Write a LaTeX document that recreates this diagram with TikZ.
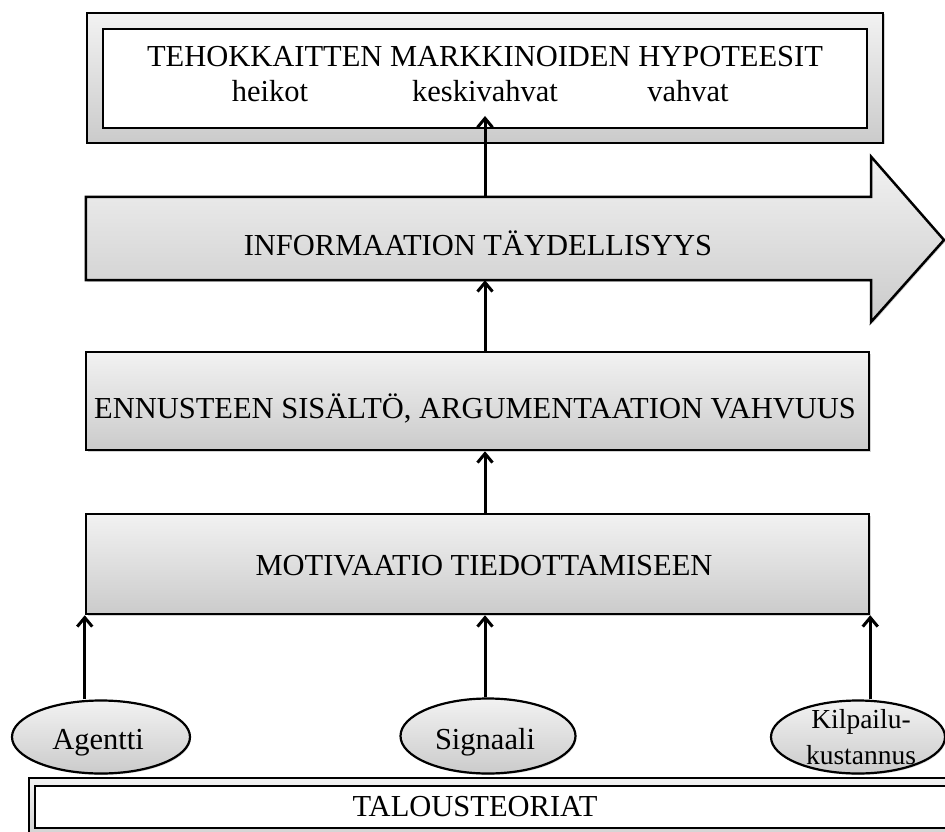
\documentclass[tikz,border=0pt]{standalone}
\usepackage{fontspec}
\setmainfont{Liberation Serif}
\usetikzlibrary{shapes.geometric,arrows.meta,shadows}
\definecolor{gtop}{HTML}{F2F2F2}
\definecolor{gbot}{HTML}{CBCBCB}
\begin{document}
\begin{tikzpicture}[x=1pt,y=-1pt,
  shbox/.style={draw=black, line width=2.5pt, top color=gtop, bottom color=gbot, inner sep=0pt,
    drop shadow={opacity=0.35, shadow xshift=1.5pt, shadow yshift=-1.5pt}},
  wbox/.style={draw=black, line width=2.5pt, fill=white, inner sep=0pt},
  oval/.style={ellipse, draw=black, line width=2.2pt, top color=gtop, bottom color=gbot, inner sep=0pt,
    drop shadow={opacity=0.3, shadow xshift=1pt, shadow yshift=-1.5pt}},
  lbl/.style={font=\fontsize{30.5}{35}\selectfont, anchor=base, inner sep=0pt},
  slbl/.style={font=\fontsize{27.5}{36}\selectfont, anchor=base, inner sep=0pt},
  arr/.style={line width=3pt, -{Straight Barb[length=9pt,width=15pt]}},
]
\useasboundingbox (0,0) rectangle (945,832);
\clip (0,0) rectangle (945,832);

% top frame
\node (hypframe) [shbox, minimum width=796pt, minimum height=130pt] at (485,78) {};
\node (hyp) [wbox, minimum width=764pt, minimum height=99pt] at (485,78.5) {};
\node[lbl] (hyptitle) at (485,67) {TEHOKKAITTEN MARKKINOIDEN HYPOTEESIT};
\node[lbl] (heikot) at (270,102) {heikot};
\node[lbl] (kesk) at (485,102) {keskivahvat};
\node[lbl] (vahvat) at (688,102) {vahvat};
\coordinate (ktip) at (485,116);

% big arrow
\path node (infobody) [minimum width=785pt, minimum height=83pt, inner sep=0pt] at (478.5,238.5) {};
\draw[line width=2.5pt, line join=miter, top color=gtop, bottom color=gbot,
      drop shadow={opacity=0.35, shadow xshift=1.5pt, shadow yshift=-1.5pt}]
  (infobody.north west) -- (infobody.north east) -- ++(0,-40) -- (944,240)
  -- (871,322) -- (infobody.south east) -- (infobody.south west) -- cycle;
\node[lbl] (infotxt) at (478,255) {INFORMAATION TÄYDELLISYYS};

% box 2
\node (ennuste) [shbox, minimum width=783pt, minimum height=98pt] at (477.5,401) {};
\node[lbl] (ennustetxt) at (475,418) {ENNUSTEEN SISÄLTÖ, ARGUMENTAATION VAHVUUS};

% box 3
\node (motiv) [shbox, minimum width=783pt, minimum height=100pt] at (477.5,564) {};
\node[lbl] (motivtxt) at (484,575) {MOTIVAATIO TIEDOTTAMISEEN};

% ellipses
\node (agentti) [oval, minimum width=178pt, minimum height=73pt] at (101,737) {};
\node[lbl] (agenttitxt) at (98,749) {Agentti};
\node (signaali) [oval, minimum width=175pt, minimum height=75pt] at (488,736) {};
\node[lbl] (signaalitxt) at (485,749) {Signaali};
\node (kilpailu) [oval, minimum width=174pt, minimum height=73pt] at (858,737) {};
\node[slbl, align=center] (kilpailutxt) at (861,764) {Kilpailu-\\kustannus};

% bottom frame
\node (talousframe) [shbox, minimum width=971pt, minimum height=72pt] at (514.5,814) {};
\node (talous) [wbox, minimum width=955pt, minimum height=42pt] at (512.5,807) {};
\node[lbl] (taloustxt) at (475,816) {TALOUSTEORIAT};

% connectors
\draw[arr] (hyp.south |- infobody.north) -- (ktip);
\draw[arr] (hyp.south |- ennuste.north) -- (hyp.south |- infobody.south);
\draw[arr] (hyp.south |- motiv.north) -- (hyp.south |- ennuste.south);
\draw[arr] (agentti.north -| motiv.south west) -- (motiv.south west);
\draw[arr] (hyp.south |- signaali.north) -- (hyp.south |- motiv.south);
\draw[arr] (kilpailu.north -| motiv.south east) -- (motiv.south east);
\end{tikzpicture}
\end{document}
